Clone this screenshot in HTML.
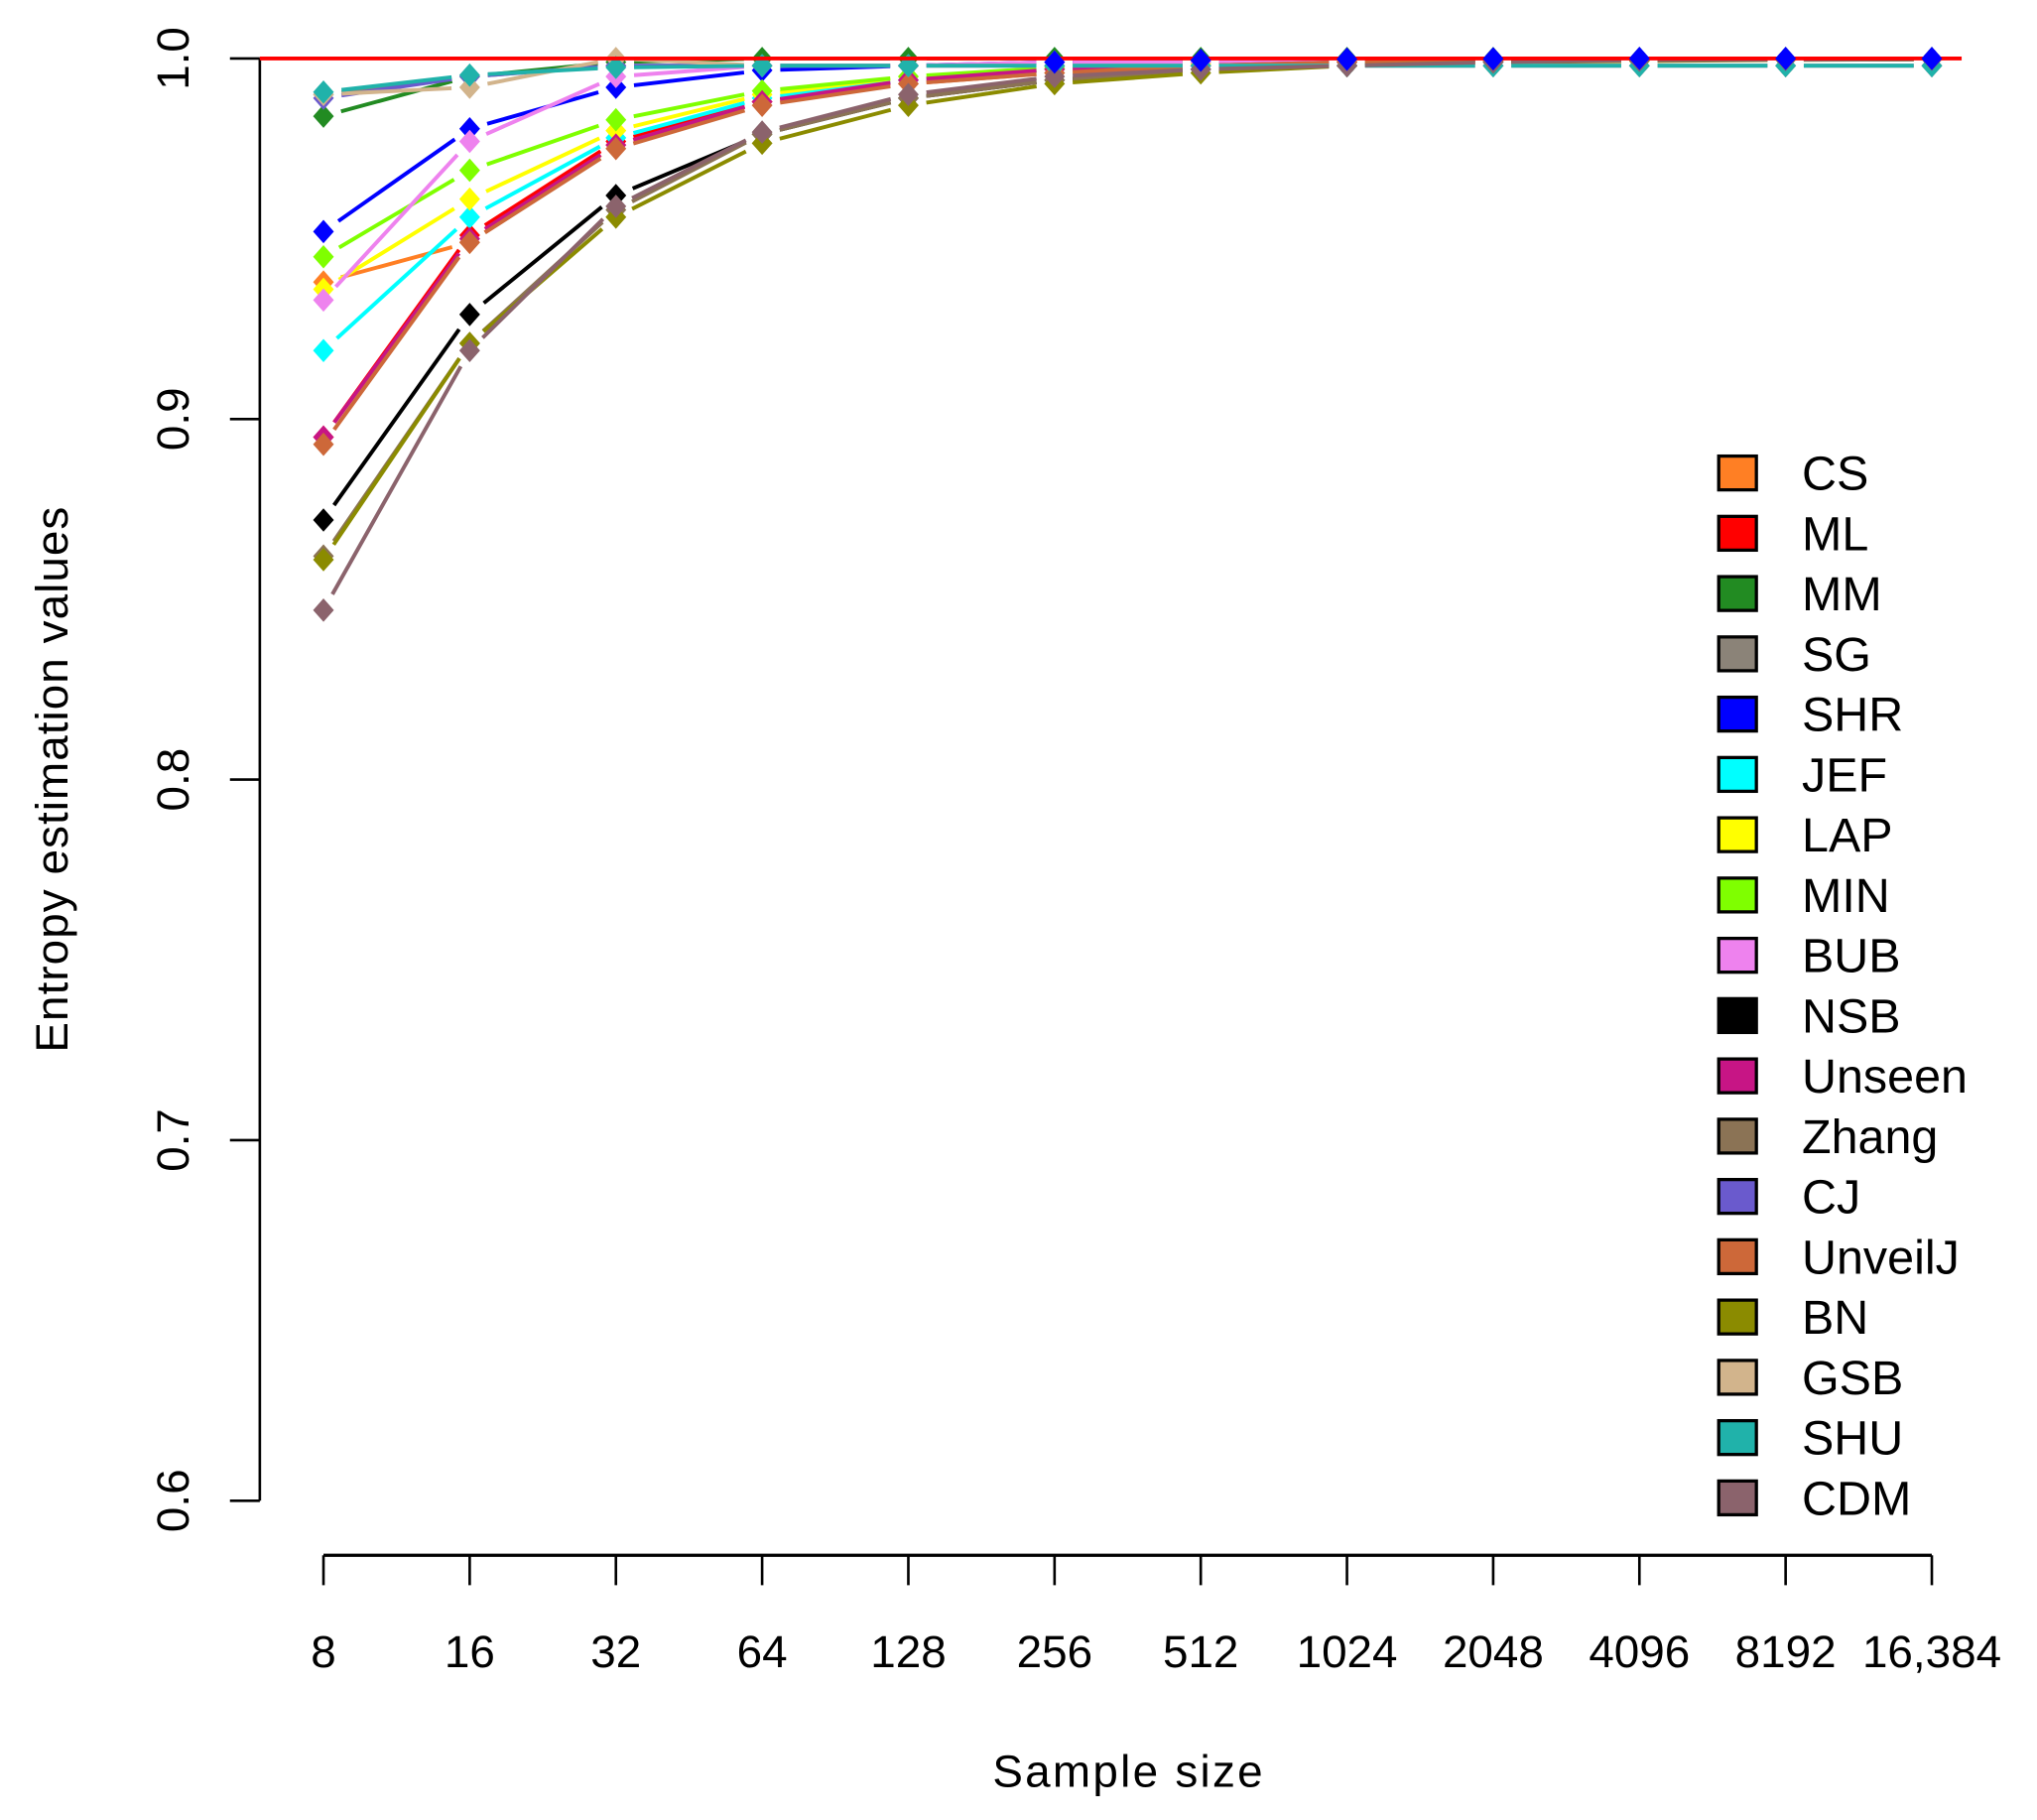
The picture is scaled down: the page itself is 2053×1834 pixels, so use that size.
<!DOCTYPE html>
<html><head><meta charset="utf-8"><style>html,body{margin:0;padding:0;background:#fff}svg{display:block}</style></head>
<body>
<svg id="s" xmlns="http://www.w3.org/2000/svg" width="2053" height="1834" viewBox="0 0 1568 1400.7" font-family="Liberation Sans, Arial, sans-serif">
<rect width="1568" height="1401" fill="#fff"/>
<g id="plot"></g>
<line x1="200" y1="45" x2="200" y2="1155" stroke="#000" stroke-width="2"/>
<g stroke="#000" stroke-width="2">
<line x1="177" y1="45" x2="200" y2="45"/><line x1="177" y1="322.5" x2="200" y2="322.5"/><line x1="177" y1="600" x2="200" y2="600"/><line x1="177" y1="877.5" x2="200" y2="877.5"/><line x1="177" y1="1155" x2="200" y2="1155"/>
</g>
<g font-size="35" text-anchor="middle" fill="#000">
<text transform="translate(145,45) rotate(-90)">1.0</text>
<text transform="translate(145,322.5) rotate(-90)">0.9</text>
<text transform="translate(145,600) rotate(-90)">0.8</text>
<text transform="translate(145,877.5) rotate(-90)">0.7</text>
<text transform="translate(145,1155) rotate(-90)">0.6</text>
<text transform="translate(52,600) rotate(-90)" textLength="420">Entropy estimation values</text>
</g>
<line x1="249" y1="1197" x2="1487" y2="1197" stroke="#000" stroke-width="2.5"/>
<g id="xt" font-size="35" text-anchor="middle"></g>
<text x="868" y="1375" font-size="35" text-anchor="middle" textLength="208">Sample size</text>
<g id="leg" font-size="37"></g>
<line x1="200" y1="45" x2="1510" y2="45" stroke="#ff0000" stroke-width="3"/>
<g id="top"></g>
<script>
var ns="http://www.w3.org/2000/svg";
function el(t,a,p){var e=document.createElementNS(ns,t);for(var k in a)e.setAttribute(k,a[k]);p.appendChild(e);return e;}
var labs=["8","16","32","64","128","256","512","1024","2048","4096","8192","16,384"];
var xt=document.getElementById("xt");
function X(i){return 249+i*112.55;}
function Y(v){return 45+(1-v)*2775;}
for(var i=0;i<12;i++){el("line",{x1:X(i),y1:1197,x2:X(i),y2:1220,stroke:"#000","stroke-width":2},xt);var t=el("text",{x:X(i),y:1283},xt);t.textContent=labs[i];}
var S=[
["CS","#FF7F24",[.938,.949,.976,.988,.993,.996,.998,.999,.9993,.9996,.9998,.9999]],
["ML","#FF0000",[.895,.951,.977,.988,.994,.997,.998,.999,.9995,.9997,.9998,.9999]],
["MM","#228B22",[.984,.995,.999,1,1,1,1,1,1,1,1,1]],
["SG","#8B8378",[.990,.995,.998,.998,.998,.998,.998,.998,.998,.998,.998,.998]],
["SHR","#0000FF",[.952,.9805,.992,.9967,.998,.999,.9995,.9998,.9999,1,1,1]],
["JEF","#00FFFF",[.919,.956,.978,.989,.994,.997,.998,.999,.9995,.9997,.9998,.9999]],
["LAP","#FFFF00",[.936,.961,.980,.990,.995,.997,.9985,.9992,.9996,.9998,.9999,.9999]],
["MIN","#7FFF00",[.945,.969,.983,.991,.995,.9975,.999,.9995,.9997,.9998,.9999,.9999]],
["BUB","#EE82EE",[.933,.977,.995,.998,.998,.999,.999,.9995,.9997,.9998,.9999,.9999]],
["NSB","#000000",[.872,.929,.962,.979,.989,.994,.997,.998,.999,.9995,.9997,.9998]],
["Unseen","#C71585",[.895,.950,.976,.988,.994,.997,.998,.999,.9995,.9997,.9998,.9999]],
["Zhang","#8B7355",[.862,.921,.958,.979,.989,.994,.997,.998,.999,.9995,.9997,.9998]],
["CJ","#6A5ACD",[.989,.995,.998,.998,.998,.998,.998,.998,.998,.998,.998,.998]],
["UnveilJ","#CD6839",[.893,.949,.975,.987,.993,.996,.998,.999,.9995,.9997,.9998,.9999]],
["BN","#8B8B00",[.861,.921,.956,.9765,.987,.993,.996,.998,.999,.9993,.9996,.9998]],
["GSB","#D2B48C",[.990,.992,1.0,.998,.998,.998,.998,.998,.998,.998,.998,.998]],
["SHU","#20B2AA",[.9907,.9954,.9975,.998,.998,.998,.998,.998,.998,.998,.998,.998]],
["CDM","#8B636C",[.847,.919,.959,.9796,.990,.995,.997,.998,.999,.9995,.9997,.9998]]
];
var P=document.getElementById("plot"),L=document.getElementById("leg"),T=document.getElementById("top");
function dia(x,y,c,g){el("polygon",{points:(x)+","+(y-9)+" "+(x+8)+","+y+" "+x+","+(y+9)+" "+(x-8)+","+y,fill:c},g);}
S.forEach(function(s,k){
 var v=s[2],g=el("g",{},P);
 for(var i=0;i<11;i++){var x1=X(i),y1=Y(v[i]),x2=X(i+1),y2=Y(v[i+1]);var dx=x2-x1,dy=y2-y1,d=Math.sqrt(dx*dx+dy*dy),r=14/d;
  el("line",{x1:x1+dx*r,y1:y1+dy*r,x2:x2-dx*r,y2:y2-dy*r,stroke:s[1],"stroke-width":3},g);}
 for(var i=0;i<12;i++){dia(X(i),Y(v[i]),s[1],g);}
 var ly=364+k*46.4;
 el("rect",{x:1323,y:ly-13,width:29,height:26,fill:s[1],stroke:"#000","stroke-width":2.5},L);
 var t=el("text",{x:1387,y:ly+13},L);t.textContent=s[0];
});
var shr=S[4][2];for(var i=5;i<12;i++){dia(X(i),Y(shr[i]),"#0000FF",T);}
</script>
</svg>
</body></html>
